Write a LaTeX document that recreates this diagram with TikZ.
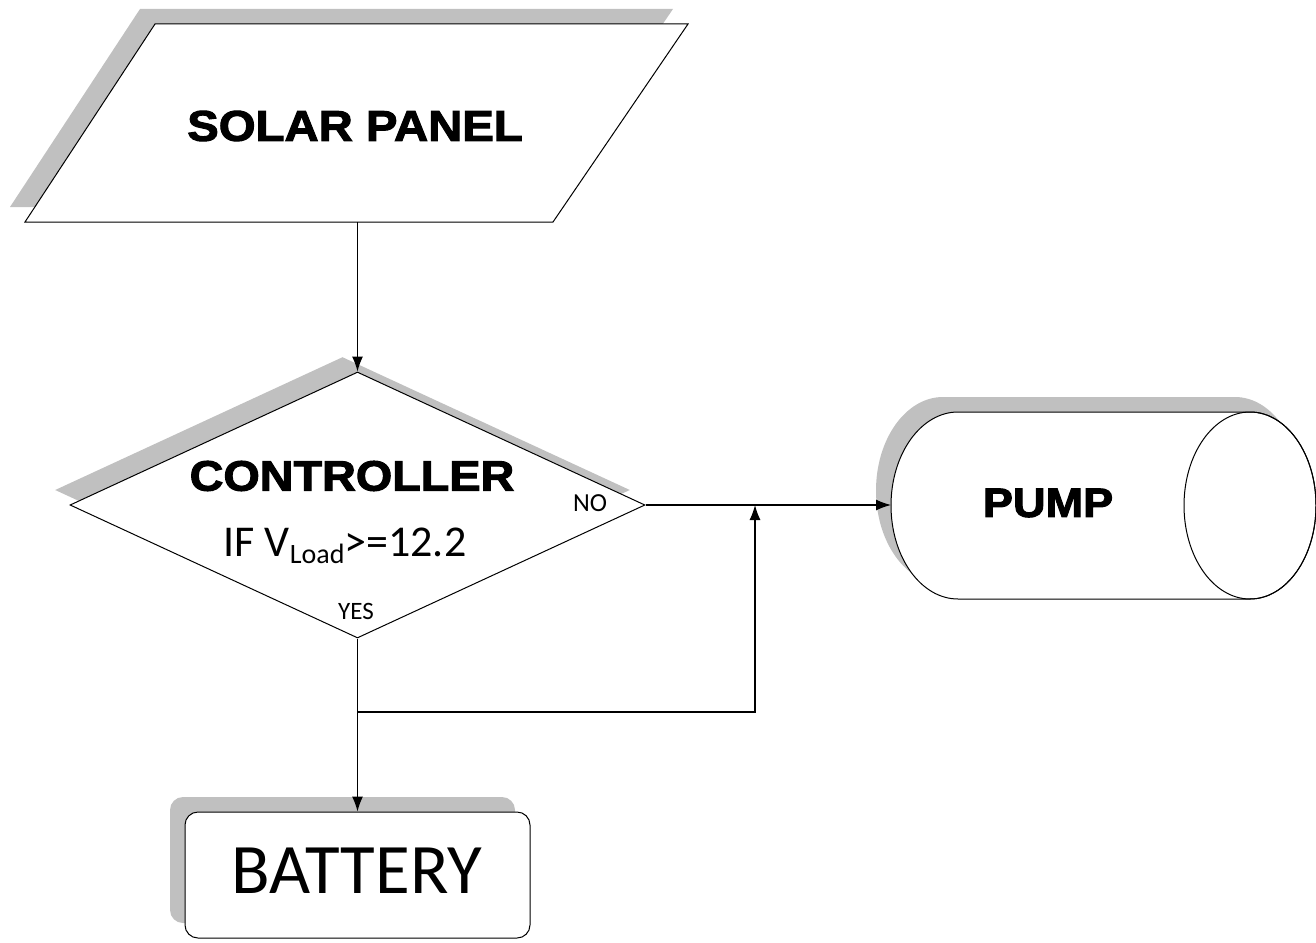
\documentclass[tikz,border=0pt]{standalone}
\usepackage{fontspec}
\setmainfont{Carlito}
\newfontfamily\heavy{Liberation Sans}[FakeStretch=1.1, BoldFeatures={FakeBold=2.4}]
\usetikzlibrary{shapes.geometric,shadows,arrows.meta}
\definecolor{shadowgray}{HTML}{C0C0C0}
\tikzset{
  outline/.style={draw=black, line width=1pt, fill=white},
  shadowfill/.style={fill=shadowgray, draw=none, shift={(-15,15)}},
  shp/.style={outline,
    general shadow={shadow xshift=-15pt, shadow yshift=15pt, fill=shadowgray}},
  conn/.style={line width=1.2pt},
  arr/.style={conn, -{Latex[length=15pt,width=11pt]}},
  big/.style={font=\heavy\bfseries\fontsize{#1}{#1}\selectfont},
  reg/.style={font=\fontsize{#1}{#1}\selectfont},
}
\begin{document}
\begin{tikzpicture}[x=1pt,y=1pt]
\useasboundingbox (0,0) rectangle (1316,-942);
% solar panel (parallelogram)
\path[shadowfill] (155,-24) -- (688,-24) -- (553,-222) -- (25,-222) -- cycle;
\path[outline] (155,-24) -- (688,-24) -- (553,-222) -- (25,-222) -- cycle;
\node[big=43] (panel) at (355,-126) {SOLAR PANEL};
\coordinate (panelout) at (357.5,-222);
% controller
\node[shp, diamond, minimum width=575pt, minimum height=266pt, inner sep=0pt]
  (ctrl) at (357.5,-505) {};
\node[big=42.5] (ctrltxt) at (352,-476) {CONTROLLER};
\node[reg=44] (cond) at (345,-546) {IF V\raisebox{-7pt}{\fontsize{28}{28}\selectfont Load}>=12.2};
\node[reg=26] (no) at (590,-503) {NO};
\node[reg=25] (yes) at (356,-611) {YES};
% pump (horizontal cylinder)
\path[shadowfill] (958,-412) arc[start angle=90,end angle=270,x radius=67,y radius=93.5]
  -- (1250,-599) arc[start angle=-90,end angle=90,x radius=66,y radius=93.5] -- cycle;
\path[outline] (958,-412) arc[start angle=90,end angle=270,x radius=67,y radius=93.5]
  -- (1250,-599) arc[start angle=-90,end angle=90,x radius=66,y radius=93.5] -- cycle;
\draw[line width=1pt] (1250,-505.5) ellipse[x radius=66,y radius=93.5];
\node[big=41] (pump) at (1048,-503) {PUMP};
\coordinate (pumpin) at (891,-505);
% battery
\node[shp, rectangle, rounded corners=13pt, minimum width=345pt, minimum height=126pt]
  (batt) at (357.5,-875) {};
\node[reg=71] (batttxt) at (357,-871) {BATTERY};
% connectors
\draw[arr] (panelout) -- (ctrl.north);
\draw[arr] (ctrl.east) -- (pumpin);
\draw[arr] (ctrl.south) -- (batt.north);
\coordinate (split) at (357.5,-712);
\coordinate (turn) at (755,-712);
\draw[arr] (split) -- (turn) -- (turn |- ctrl.east);
\end{tikzpicture}
\end{document}
